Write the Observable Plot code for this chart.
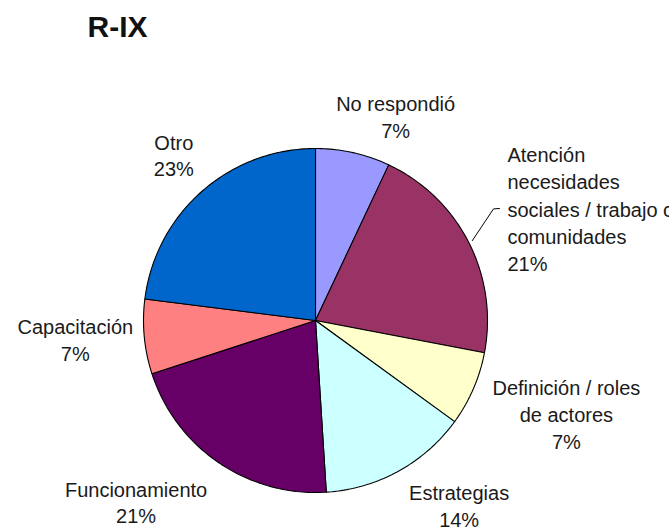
<!DOCTYPE html>
<html>
<head>
<meta charset="utf-8">
<script src="https://cdn.jsdelivr.net/npm/d3@7"></script>
<script src="https://cdn.jsdelivr.net/npm/@observablehq/plot@0.6"></script>
<style>
  html, body { margin: 0; padding: 0; background: #fff; overflow: hidden; }
  #chart svg { overflow: hidden; display: block; }
</style>
</head>
<body>
<div id="chart"></div>
<script>
// ---- data ----
const title = "R-IX";
const categories = [
  "No respondió",
  "Atención necesidades sociales / trabajo con comunidades",
  "Definición / roles de actores",
  "Estrategias",
  "Funcionamiento",
  "Capacitación",
  "Otro"
];
const labelText = [
  "No respondió",
  "Atención\nnecesidades\nsociales / trabajo con\ncomunidades",
  "Definición / roles\nde actores",
  "Estrategias",
  "Funcionamiento",
  "Capacitación",
  "Otro"
];
const percents = [7, 21, 7, 14, 21, 7, 23];
const colors = ["#9999FF", "#993366", "#FFFFCC", "#CCFFFF", "#660066", "#FF8080", "#0066CC"];

// ---- layout ----
const W = 669, H = 529;
const cx = 315, cy = 320, R = 172;          // pie centre (px) and radius
const labelGap = 12;
// nudge of each label block from its anchor point at the slice's mid-angle
const labelNudge = [[40, -25], [28, -29], [82, 20], [55, 23], [-76, 29], [-57, 1], [-20, -28]];
const leaderSlice = 1; // label with a leader line (left-aligned)

// ---- geometry from data ----
const total = d3.sum(percents);
let cum = 0;
const slices = percents.map((v, i) => {
  const a0 = cum / total * 2 * Math.PI;
  cum += v;
  const a1 = cum / total * 2 * Math.PI;
  return {i, cat: categories[i], v, a0, a1, mid: (a0 + a1) / 2};
});
// angle measured clockwise from 12 o'clock; y grows downward (scale range set accordingly)
const pt = (a, r) => [r * Math.sin(a), -r * Math.cos(a)];

const polyPts = [];
for (const s of slices) {
  polyPts.push({cat: s.cat, x: 0, y: 0});
  const n = Math.max(2, Math.ceil((s.a1 - s.a0) / (Math.PI / 180)));
  for (let k = 0; k <= n; ++k) {
    const a = s.a0 + (s.a1 - s.a0) * k / n;
    const [x, y] = pt(a, R);
    polyPts.push({cat: s.cat, x, y});
  }
  polyPts.push({cat: s.cat, x: 0, y: 0});
}

const labels = slices.map(s => {
  const [px, py] = pt(s.mid, R + labelGap);
  const [nx, ny] = labelNudge[s.i];
  return {i: s.i, x: px + nx, y: py + ny, text: labelText[s.i] + "\n" + percents[s.i] + "%"};
});
const centered = labels.filter(d => d.i !== leaderSlice);
const lead = labels.filter(d => d.i === leaderSlice);

// leader line for the left-aligned label
const ls = slices[leaderSlice];
const [ex, ey] = pt(ls.mid, R + 4);
const lab = lead[0];
const leaderPts = [
  {x: ex, y: ey},
  {x: lab.x - 14, y: lab.y + 1},
  {x: lab.x - 8, y: lab.y + 0.5}
];

const font = "'Liberation Sans', Arial, Helvetica, sans-serif";

const chart = Plot.plot({
  width: W,
  height: H,
  margin: 0,
  style: {fontFamily: font, background: "#fff", overflow: "hidden"},
  x: {domain: [-cx, W - cx], range: [0, W], axis: null},
  y: {domain: [-cy, H - cy], range: [0, H], axis: null},
  color: {domain: categories, range: colors},
  marks: [
    Plot.line(polyPts, {x: "x", y: "y", z: "cat", fill: "cat", stroke: "#000", strokeWidth: 1.1, strokeLinejoin: "miter"}),
    Plot.line(leaderPts, {x: "x", y: "y", stroke: "#000", strokeWidth: 1}),
    Plot.text(centered, {x: "x", y: "y", text: "text", textAnchor: "middle", lineAnchor: "middle",
      fontSize: 20, lineHeight: 1.33, fill: "#1a1a1a"}),
    Plot.text(lead, {x: "x", y: "y", text: "text", textAnchor: "start", lineAnchor: "middle",
      fontSize: 20, lineHeight: 1.36, fill: "#1a1a1a"}),
    Plot.text([title], {frameAnchor: "top-left", dx: 87, dy: 15, lineAnchor: "top", textAnchor: "start",
      fontSize: 30, fontWeight: "bold", fill: "#111"})
  ]
});
document.getElementById("chart").appendChild(chart);
</script>
</body>
</html>
